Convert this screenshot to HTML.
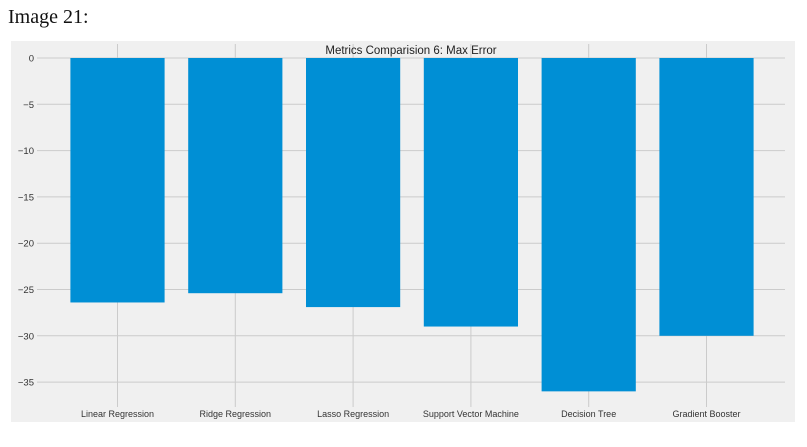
<!DOCTYPE html>
<html><head><meta charset="utf-8"><style>
body{margin:0;background:#fff;width:807px;height:447px;overflow:hidden}
#t{position:absolute;left:8px;top:6px;font:20px "Liberation Serif",serif;color:#111}
svg{position:absolute;left:0;top:0}
</style></head><body>
<div id="t">Image 21:</div>
<svg width="807" height="447">
<rect x="11" y="41" width="784" height="381" fill="#f0f0f0"/>
<g id="g"></g>
<text x="411" y="54" text-anchor="middle" font-family="Liberation Sans, sans-serif" font-size="11.5" fill="#222">Metrics Comparision 6: Max Error</text>
</svg>
<script>
const categories=["Linear Regression","Ridge Regression","Lasso Regression","Support Vector Machine","Decision Tree","Gradient Booster"];
const values=[-26.4,-25.4,-26.9,-29.0,-36.0,-30.0];
const yTicks=[0,-5,-10,-15,-20,-25,-30,-35];
const yScale=v=>58-v*9.26;
const xScale=i=>117.5+i*117.8;
const bw=94.2;
const g=document.getElementById('g');
const NS='http://www.w3.org/2000/svg';
function mk(t,a){const e=document.createElementNS(NS,t);for(const k in a)e.setAttribute(k,a[k]);g.appendChild(e);return e;}
yTicks.forEach(v=>{
 const l=mk('line',{x1:37,x2:785,y1:yScale(v),y2:yScale(v),stroke:'#cbcbcb','stroke-width':1});
 
 
 const t=mk('text',{x:34,y:yScale(v)+3.5,'text-anchor':'end','font-family':'Liberation Sans, sans-serif','font-size':'9.5',fill:'#333'});
 t.textContent=v===0?'0':'\u2212'+Math.abs(v);
 
 
});
categories.forEach((c,i)=>{
 const l=mk('line',{x1:xScale(i),x2:xScale(i),y1:44,y2:407,stroke:'#cbcbcb','stroke-width':1});
 
 
});
categories.forEach((c,i)=>{
 const y0=yScale(0),y1=yScale(values[i]);
 const r=mk('rect',{x:xScale(i)-bw/2,y:Math.min(y0,y1),width:bw,height:Math.abs(y1-y0),fill:'#008fd5'});
 
 
 const t=mk('text',{x:xScale(i),y:417,'text-anchor':'middle','font-family':'Liberation Sans, sans-serif','font-size':'9',fill:'#333'});
 t.textContent=c;
 
 
});
</script>
</body></html>
